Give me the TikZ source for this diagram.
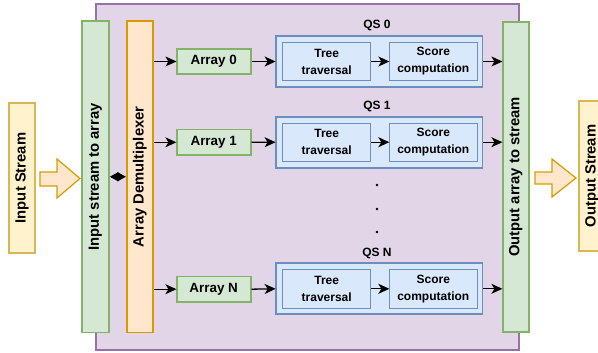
\documentclass[tikz,border=0pt]{standalone}
\usepackage{fontspec}
\setmainfont{Liberation Sans}
\usetikzlibrary{arrows.meta}
\definecolor{grF}{HTML}{D5E8D4}
\definecolor{grD}{HTML}{82B366}
\definecolor{orF}{HTML}{FFE6CC}
\definecolor{orD}{HTML}{D79B00}
\definecolor{yeF}{HTML}{FFF2CC}
\definecolor{yeD}{HTML}{D6B656}
\definecolor{blF}{HTML}{DAE8FC}
\definecolor{blD}{HTML}{6C8EBF}
\definecolor{puF}{HTML}{E1D5E7}
\definecolor{puD}{HTML}{9673A6}
\tikzset{
  box/.style={draw, line width=1.6pt, inner sep=0pt, font=\bfseries, align=center},
  vbar/.style={box, rotate=90, font=\bfseries\fontsize{14.8}{17}\selectfont},
  greenbar/.style={vbar, fill=grF, draw=grD},
  orangebar/.style={vbar, fill=orF, draw=orD},
  yellowbar/.style={vbar, fill=yeF, draw=yeD},
  arraybox/.style={box, fill=grF, draw=grD, minimum width=74pt, minimum height=25.5pt, font=\bfseries\fontsize{13.4}{16}\selectfont},
  qsbox/.style={box, fill=blF, draw=blD, line width=1.8pt, minimum width=206.5pt, minimum height=51pt},
  stagebox/.style={box, fill=blF, draw=blD, line width=0.9pt, minimum width=88pt, minimum height=38.4pt, font=\bfseries\fontsize{12}{17}\selectfont},
  qslbl/.style={font=\bfseries\fontsize{12}{14}\selectfont, inner sep=0pt},
  dotn/.style={circle, fill=black, inner sep=0pt, minimum size=2.6pt},
  arr/.style={-{Stealth[length=11pt,width=10pt,inset=3pt]}, line width=1.3pt, black, shorten >=-0.5pt},
  dblarr/.style={{Triangle[length=8.5pt,width=9pt]}-{Triangle[length=8.5pt,width=9pt]}, line width=1.3pt, black},
  blockarrow/.style={fill=orF, draw=orD, line width=1.2pt, line join=miter},
}
\begin{document}
\begin{tikzpicture}[x=1pt, y=-1pt]
\useasboundingbox (0,0) rectangle (598,353);
\clip (0,0) rectangle (598,353);
% container
\node[box, fill=puF, draw=puD, minimum width=423pt, minimum height=346pt] (cont) at (307.5,177) {};
% vertical bars
\node[greenbar, minimum width=311.5pt, minimum height=27.3pt] (inbar) at (95.35,176.75) {Input stream to array};
\node[orangebar, minimum width=311.5pt, minimum height=26pt] (demux) at (139.7,176.75) {Array Demultiplexer};
\node[greenbar, minimum width=310pt, minimum height=26.3pt] (outbar) at (515.85,177) {Output array to stream};
\node[yellowbar, minimum width=150pt, minimum height=26pt] (instream) at (22,178) {Input Stream};
\node[yellowbar, minimum width=150pt, minimum height=26pt] (outstream) at (592,176) {Output Stream};
% block arrows
\draw[blockarrow] (40,172) -- (57,172) -- (57,159) -- (80,178.5) -- (57,198) -- (57,186) -- (40,186) -- cycle;
\draw[blockarrow] (535,172) -- (552,172) -- (552,159) -- (576,178) -- (552,197) -- (552,184) -- (535,184) -- cycle;
% double arrow
\draw[dblarr] (inbar.south) -- (demux.north);
% arrays
\node[arraybox] (a0) at (213.7,61.5) {Array 0};
\node[arraybox] (a1) at (213.7,142.3) {Array 1};
\node[arraybox] (aN) at (213.7,289.2) {Array N};
% QS blocks
\foreach \n/\y/\t in {0/61.5/QS 0, 1/142.2/QS 1, N/288.8/QS N}{
  \node[qsbox] (qs\n) at (379.25,\y) {};
  \node[qslbl] (ql\n) at (377,\y-35.6) {\t};
  \node[stagebox] (tr\n) at (326.7,\y) {Tree\\traversal};
  \node[stagebox] (sc\n) at (433.3,\y) {Score\\computation};
  \draw[arr] (demux.south |- a\n) -- (a\n.west);
  \draw[arr] (a\n.east) -- (qs\n.west);
  \draw[arr] (tr\n.east) -- (sc\n.west);
  \draw[arr] (qs\n.east) -- (qs\n.east -| outbar.north);
}
% dots
\node[dotn] (d1) at (377,185) {};
\node[dotn] (d2) at (377,209) {};
\node[dotn] (d3) at (377,232) {};
\end{tikzpicture}
\end{document}
